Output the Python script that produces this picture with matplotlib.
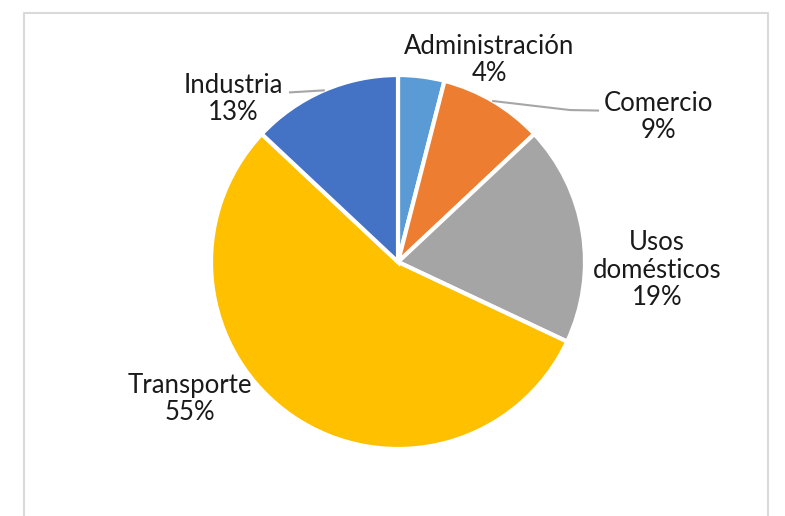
import matplotlib.pyplot as plt
import numpy as np

plt.rcParams['font.family'] = ['Lato', 'DejaVu Sans']

# Sectors, clockwise from 12 o'clock
labels = ['Administración', 'Comercio', 'Usos\ndomésticos', 'Transporte', 'Industria']
shares = [4, 9, 19, 55, 13]
colors = ['#5B9BD5', '#ED7D31', '#A5A5A5', '#FFC000', '#4472C4']

# Label centres in pixel coords (x from left, y from top)
label_pos = [(489, 60), (658, 117), (657, 270), (190, 399), (233, 99)]
leader = [False, True, False, False, True]

W, H = 785, 516
fig = plt.figure(figsize=(W / 100, H / 100), dpi=100)
ax = fig.add_axes([0, 0, 1, 1])
ax.set_xlim(0, W)
ax.set_ylim(0, H)
ax.set_aspect('equal')
ax.axis('off')

# outer frame
ax.plot([23.5, 23.5, 767.5, 767.5], [0, H - 12.5, H - 12.5, 0], color='#D9D9D9', lw=1.5)

cx, cy, r = 398, H - 262, 187
wedges, _ = ax.pie(shares, colors=colors, startangle=90, counterclock=False,
                   center=(cx, cy), radius=r,
                   wedgeprops=dict(edgecolor='white', linewidth=3))
ax.set_xlim(0, W)
ax.set_ylim(0, H)

for w, lab, s, (lx, ly), ld in zip(wedges, labels, shares, label_pos, leader):
    ax.text(lx, H - ly, f'{lab}\n{s}%', ha='center', va='center',
            fontsize=18.5, linespacing=1.12, color='#1a1a1a')
    if ld:
        a = np.deg2rad((w.theta1 + w.theta2) / 2)
        px, py = cx + r * np.cos(a), cy + r * np.sin(a)
        if lx > cx:
            ax.plot([px, 570, 598], [py, py - 9, py - 9.5], color='#A6A6A6', lw=1.5)
        else:
            ax.plot([px, 290], [py, py - 2], color='#A6A6A6', lw=1.5)

fig.savefig('out.png', dpi=100)
